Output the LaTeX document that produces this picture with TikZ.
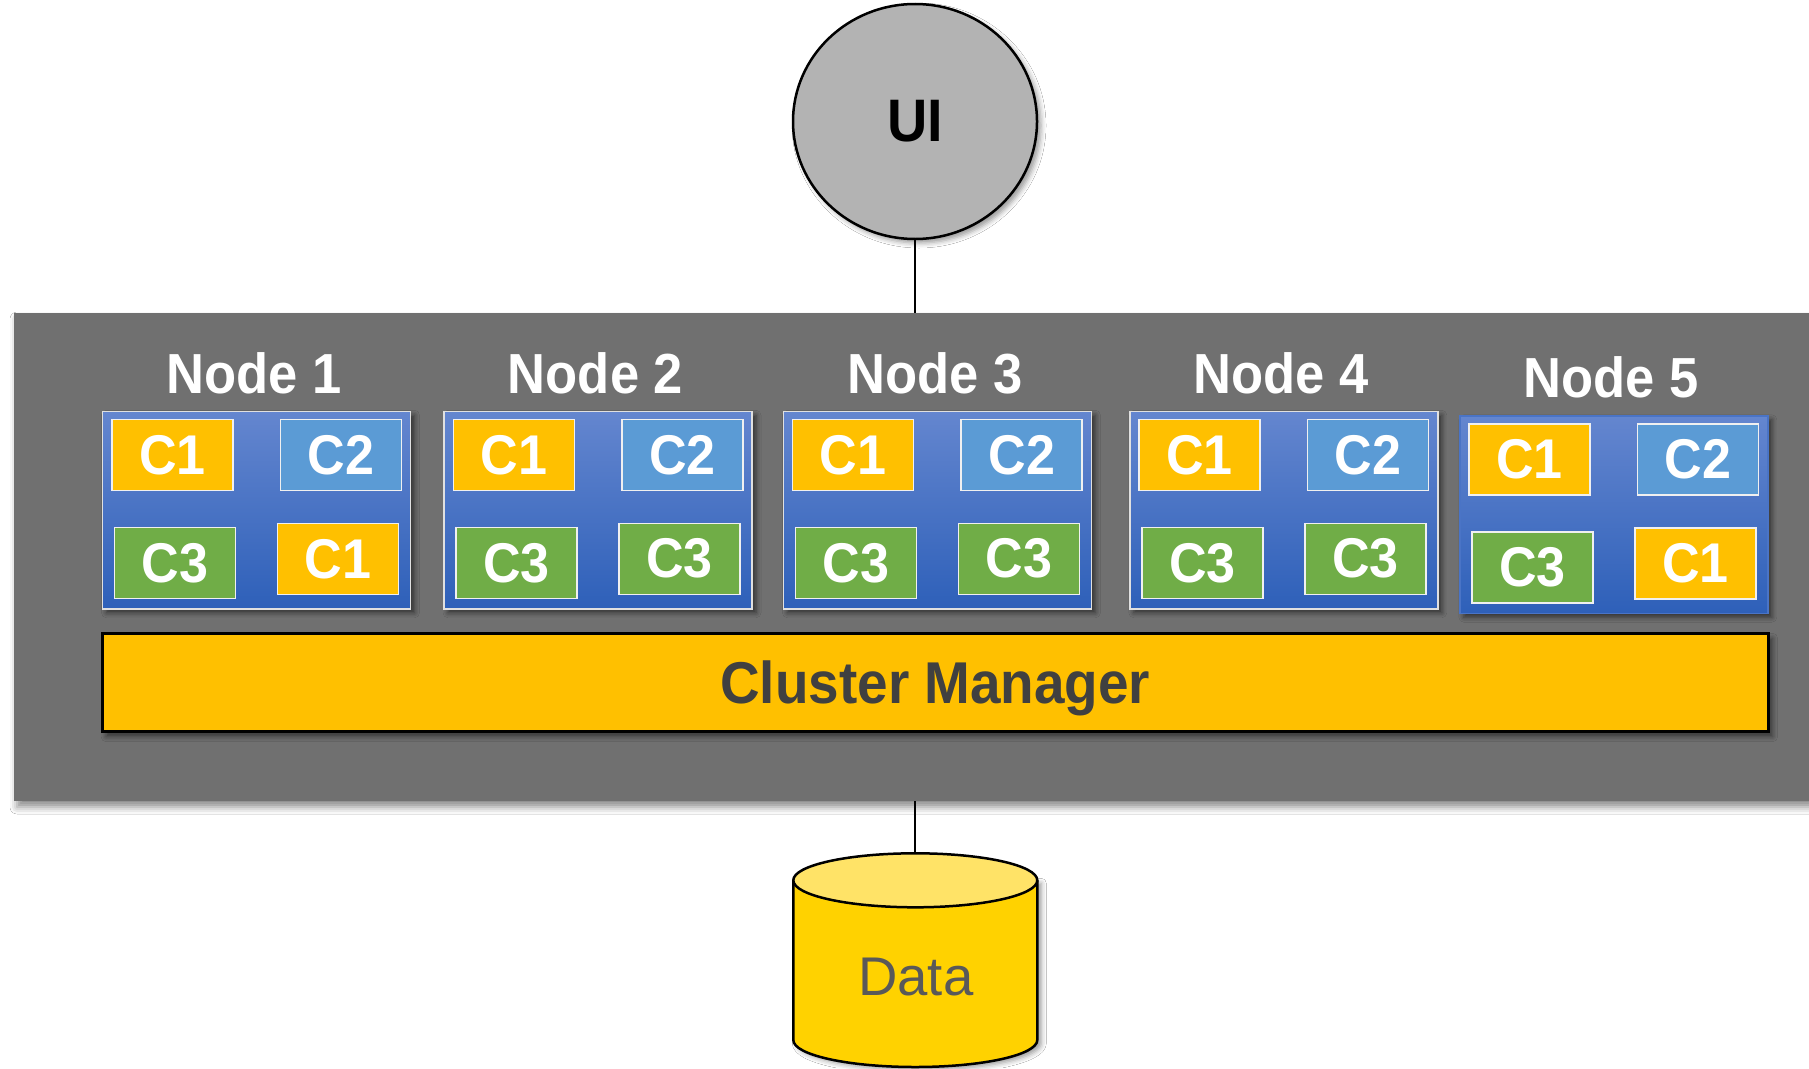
\documentclass[tikz,border=0pt]{standalone}
\usepackage{fontspec}
\setmainfont{Liberation Sans}
\newfontfamily\labelfont[FakeStretch=0.93]{Liberation Sans}
\usetikzlibrary{calc,shapes.geometric,shadows.blur}

\definecolor{panelgray}{HTML}{707070}
\definecolor{uigray}{HTML}{B3B3B3}
\definecolor{boxtop}{HTML}{6486CF}
\definecolor{boxbot}{HTML}{2E60B9}
\definecolor{boxedge}{HTML}{4A74C6}
\definecolor{cone}{HTML}{FFC000}
\definecolor{ctwo}{HTML}{5B9BD5}
\definecolor{cthree}{HTML}{70AD47}
\definecolor{cylbody}{HTML}{FFD200}
\definecolor{cyltop}{HTML}{FFE367}
\definecolor{darktext}{HTML}{404040}
\definecolor{datatext}{HTML}{595959}

\tikzset{
  panel/.style={rectangle, fill=panelgray, inner sep=0, outer sep=0,
    minimum width=1811, minimum height=488,
    blur shadow={shadow xshift=3pt, shadow yshift=-6pt, shadow blur radius=7pt, shadow opacity=45}},
  uinode/.style={ellipse, fill=uigray, draw=black, line width=2.5pt, inner sep=0,
    minimum width=244, minimum height=235,
    font=\labelfont\bfseries\fontsize{60}{64}\selectfont,
    blur shadow={shadow xshift=4pt, shadow yshift=-4pt, shadow blur radius=5pt, shadow opacity=40}},
  nodebox/.style={rectangle, draw=white!88!black, line width=1.5pt, inner sep=0, outer sep=0,
    top color=boxtop, bottom color=boxbot,
    minimum width=308, minimum height=197.5,
    blur shadow={shadow xshift=4pt, shadow yshift=-4pt, shadow blur radius=5pt, shadow opacity=55}},
  nodeboxlast/.style={nodebox, draw=boxedge},
  cbox/.style={rectangle, draw=white!94!black, line width=1.5pt, inner sep=0, outer sep=0,
    minimum width=121, minimum height=71, text=white,
    font=\labelfont\bfseries\fontsize{56}{60}\selectfont},
  cC1/.style={cbox, fill=cone},
  cC2/.style={cbox, fill=ctwo},
  cC3/.style={cbox, fill=cthree},
  nodelabel/.style={anchor=base, inner sep=0, text=white,
    font=\labelfont\bfseries\fontsize{56.5}{60}\selectfont},
  cmbox/.style={rectangle, fill=cone, draw=black, line width=3pt, inner sep=0, outer sep=0,
    minimum width=1666.5, minimum height=98.4,
    blur shadow={shadow xshift=4pt, shadow yshift=-5pt, shadow blur radius=5pt, shadow opacity=50}},
  cmtext/.style={anchor=base, inner sep=0, text=darktext,
    font=\labelfont\bfseries\fontsize{59}{64}\selectfont},
  datalabel/.style={anchor=base, inner sep=0, text=datatext,
    font=\fontsize{54.5}{60}\selectfont},
  conn/.style={draw=black, line width=2pt},
  cyl/.style={draw=black, line width=2.5pt}
}

\begin{document}
\begin{tikzpicture}[x=1pt, y=-1pt]
\useasboundingbox (0,0) rectangle (1809,1068);
\fill[white] (0,0) rectangle (1809,1068);

% grey cluster panel
\node[panel] (panel) at (919.5,557) {};

% user interface on top
\node[uinode] (ui) at (915,121.5) {UI};
\draw[conn] (ui.south) -- (ui.south |- panel.north);

% compute nodes with their containers
\foreach \i/\cx/\cy/\st/\last in {1/256.5/510/nodebox/C1, 2/598/510/nodebox/C3,
    3/937.4/510/nodebox/C3, 4/1283.8/510/nodebox/C3, 5/1613.8/514.5/nodeboxlast/C1}{
  \node[\st] (n\i) at (\cx,\cy) {};
  \node[cC1] (n\i a) at ($(n\i.north west)+(69.8,43.5)$) {C1};
  \node[cC2] (n\i b) at ($(n\i.north west)+(238.3,43.5)$) {C2};
  \node[cC3] (n\i c) at ($(n\i.north west)+(72.5,151.7)$) {C3};
  \node[c\last] (n\i d) at ($(n\i.north west)+(235.5,147.5)$) {\last};
  \node[nodelabel] (l\i) at ($(n\i.north)+(-2.5,-18)$) {Node \i};
}

% cluster manager bar
\node[cmbox] (cm) at (935.35,682.5) {};
\node[cmtext] (cmt) at (935.3,703) {Cluster Manager};

% data store cylinder
\coordinate (datatop) at (915.3,853.3);
\fill[cylbody, blur shadow={shadow xshift=4pt, shadow yshift=-3pt, shadow blur radius=5pt, shadow opacity=40}]
  (793.3,880.3) -- (793.3,1040) arc[start angle=180, end angle=0, x radius=122, y radius=27]
  -- (1037.3,880.3) -- cycle;
\draw[cyl] (793.3,880.3) -- (793.3,1040) arc[start angle=180, end angle=0, x radius=122, y radius=27]
  -- (1037.3,880.3);
\draw[cyl, fill=cyltop] (915.3,880.3) ellipse[x radius=122, y radius=27];
\node[datalabel] (data) at (915.8,995) {Data};
\draw[conn] (panel.south -| datatop) -- (datatop);
\end{tikzpicture}
\end{document}
